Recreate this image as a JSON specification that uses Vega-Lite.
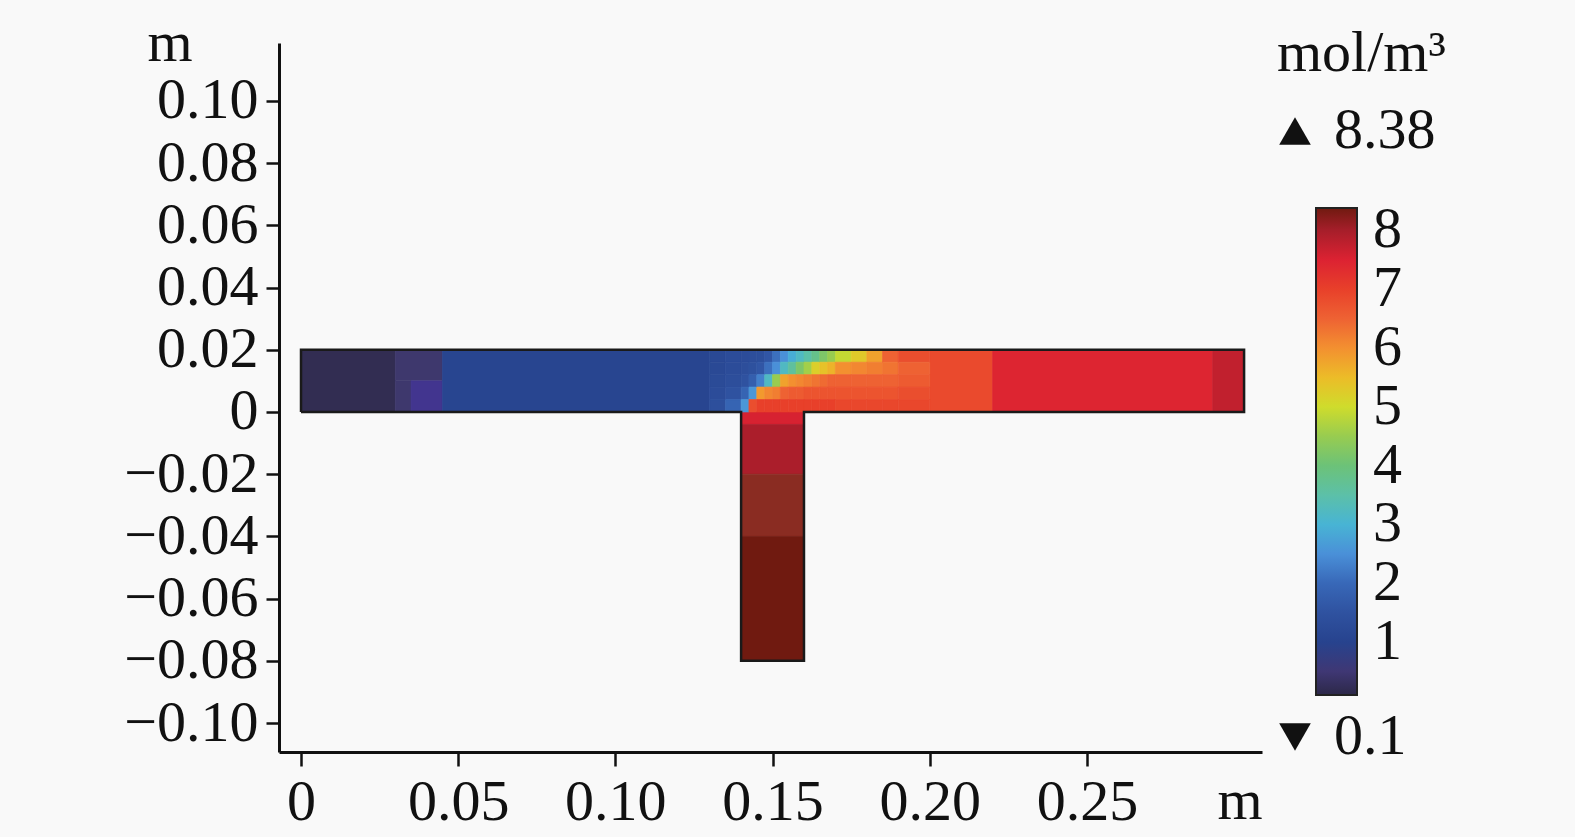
{
  "$schema": "https://vega.github.io/schema/vega-lite/v6.json",
  "width": 983,
  "height": 709,
  "autosize": {"type": "none"},
  "padding": {"left": 279, "top": 43, "right": 313, "bottom": 85},
  "background": "#f9f9f9",
  "config": {
    "view": {"stroke": null},
    "font": "Liberation Serif",
    "axis": {"grid": false, "domainColor": "#111111", "domainWidth": 3, "tickColor": "#111111", "tickWidth": 2.5, "labelFont": "Liberation Serif", "labelFontSize": 58, "labelColor": "#111111", "titleFont": "Liberation Serif", "titleFontSize": 58, "titleFontWeight": "normal", "titleColor": "#111111"},
    "legend": {"labelFont": "Liberation Serif", "labelFontSize": 58, "labelColor": "#111111", "titleFont": "Liberation Serif", "titleFontSize": 58, "titleFontWeight": "normal", "titleColor": "#111111", "padding": 0}
  },
  "layer": [
    {
      "data": {"values": [
        {"x0": 0, "x1": 0.03, "y0": 0, "y1": 0.02, "c": 0.2},
        {"x0": 0.03, "x1": 0.045, "y0": 0.01, "y1": 0.02, "c": 0.45},
        {"x0": 0.03, "x1": 0.035, "y0": 0, "y1": 0.01, "c": 0.45},
        {"x0": 0.035, "x1": 0.045, "y0": 0, "y1": 0.01, "c": 0.7},
        {"x0": 0.045, "x1": 0.13, "y0": 0, "y1": 0.02, "c": 1.05},
        {"x0": 0.2, "x1": 0.22, "y0": 0, "y1": 0.02, "c": 6.85},
        {"x0": 0.22, "x1": 0.29, "y0": 0, "y1": 0.02, "c": 7.45},
        {"x0": 0.29, "x1": 0.3, "y0": 0, "y1": 0.02, "c": 7.75},
        {"x0": 0.14, "x1": 0.16, "y0": -0.004, "y1": 0, "c": 7.55},
        {"x0": 0.14, "x1": 0.16, "y0": -0.02, "y1": -0.004, "c": 7.95},
        {"x0": 0.14, "x1": 0.16, "y0": -0.04, "y1": -0.02, "c": 8.2},
        {"x0": 0.14, "x1": 0.16, "y0": -0.08, "y1": -0.04, "c": 8.38},

        {"x0": 0.13, "x1": 0.135, "y0": 0.016, "y1": 0.02, "c": 1.2},
        {"x0": 0.13, "x1": 0.135, "y0": 0.012, "y1": 0.016, "c": 1.2},
        {"x0": 0.13, "x1": 0.135, "y0": 0.008, "y1": 0.012, "c": 1.25},
        {"x0": 0.13, "x1": 0.135, "y0": 0.004, "y1": 0.008, "c": 1.3},
        {"x0": 0.13, "x1": 0.135, "y0": 0, "y1": 0.004, "c": 1.4},

        {"x0": 0.135, "x1": 0.14, "y0": 0.016, "y1": 0.02, "c": 1.3},
        {"x0": 0.135, "x1": 0.14, "y0": 0.012, "y1": 0.016, "c": 1.3},
        {"x0": 0.135, "x1": 0.14, "y0": 0.008, "y1": 0.012, "c": 1.35},
        {"x0": 0.135, "x1": 0.14, "y0": 0.004, "y1": 0.008, "c": 1.5},
        {"x0": 0.135, "x1": 0.14, "y0": 0, "y1": 0.004, "c": 1.9},

        {"x0": 0.14, "x1": 0.1425, "y0": 0.016, "y1": 0.02, "c": 1.3},
        {"x0": 0.14, "x1": 0.1425, "y0": 0.012, "y1": 0.016, "c": 1.35},
        {"x0": 0.14, "x1": 0.1425, "y0": 0.008, "y1": 0.012, "c": 1.5},
        {"x0": 0.14, "x1": 0.1425, "y0": 0.004, "y1": 0.008, "c": 1.9},
        {"x0": 0.14, "x1": 0.1425, "y0": 0, "y1": 0.004, "c": 2.6},

        {"x0": 0.1425, "x1": 0.145, "y0": 0.016, "y1": 0.02, "c": 1.35},
        {"x0": 0.1425, "x1": 0.145, "y0": 0.012, "y1": 0.016, "c": 1.45},
        {"x0": 0.1425, "x1": 0.145, "y0": 0.008, "y1": 0.012, "c": 1.8},
        {"x0": 0.1425, "x1": 0.145, "y0": 0.004, "y1": 0.008, "c": 2.6},
        {"x0": 0.1425, "x1": 0.145, "y0": 0, "y1": 0.004, "c": 6.8},

        {"x0": 0.145, "x1": 0.1475, "y0": 0.016, "y1": 0.02, "c": 1.4},
        {"x0": 0.145, "x1": 0.1475, "y0": 0.012, "y1": 0.016, "c": 1.6},
        {"x0": 0.145, "x1": 0.1475, "y0": 0.008, "y1": 0.012, "c": 2.3},
        {"x0": 0.145, "x1": 0.1475, "y0": 0.004, "y1": 0.008, "c": 5.9},
        {"x0": 0.145, "x1": 0.1475, "y0": 0, "y1": 0.004, "c": 7.0},

        {"x0": 0.1475, "x1": 0.15, "y0": 0.016, "y1": 0.02, "c": 1.6},
        {"x0": 0.1475, "x1": 0.15, "y0": 0.012, "y1": 0.016, "c": 2.1},
        {"x0": 0.1475, "x1": 0.15, "y0": 0.008, "y1": 0.012, "c": 3.2},
        {"x0": 0.1475, "x1": 0.15, "y0": 0.004, "y1": 0.008, "c": 6.1},
        {"x0": 0.1475, "x1": 0.15, "y0": 0, "y1": 0.004, "c": 7.0},

        {"x0": 0.15, "x1": 0.1525, "y0": 0.016, "y1": 0.02, "c": 2.1},
        {"x0": 0.15, "x1": 0.1525, "y0": 0.012, "y1": 0.016, "c": 2.5},
        {"x0": 0.15, "x1": 0.1525, "y0": 0.008, "y1": 0.012, "c": 4.5},
        {"x0": 0.15, "x1": 0.1525, "y0": 0.004, "y1": 0.008, "c": 6.2},
        {"x0": 0.15, "x1": 0.1525, "y0": 0, "y1": 0.004, "c": 7.0},

        {"x0": 0.1525, "x1": 0.155, "y0": 0.016, "y1": 0.02, "c": 2.5},
        {"x0": 0.1525, "x1": 0.155, "y0": 0.012, "y1": 0.016, "c": 3.2},
        {"x0": 0.1525, "x1": 0.155, "y0": 0.008, "y1": 0.012, "c": 5.8},
        {"x0": 0.1525, "x1": 0.155, "y0": 0.004, "y1": 0.008, "c": 6.5},
        {"x0": 0.1525, "x1": 0.155, "y0": 0, "y1": 0.004, "c": 7.0},

        {"x0": 0.155, "x1": 0.1575, "y0": 0.016, "y1": 0.02, "c": 2.9},
        {"x0": 0.155, "x1": 0.1575, "y0": 0.012, "y1": 0.016, "c": 3.6},
        {"x0": 0.155, "x1": 0.1575, "y0": 0.008, "y1": 0.012, "c": 6.0},
        {"x0": 0.155, "x1": 0.1575, "y0": 0.004, "y1": 0.008, "c": 6.6},
        {"x0": 0.155, "x1": 0.1575, "y0": 0, "y1": 0.004, "c": 7.0},

        {"x0": 0.1575, "x1": 0.16, "y0": 0.016, "y1": 0.02, "c": 3.2},
        {"x0": 0.1575, "x1": 0.16, "y0": 0.012, "y1": 0.016, "c": 4.2},
        {"x0": 0.1575, "x1": 0.16, "y0": 0.008, "y1": 0.012, "c": 6.1},
        {"x0": 0.1575, "x1": 0.16, "y0": 0.004, "y1": 0.008, "c": 6.6},
        {"x0": 0.1575, "x1": 0.16, "y0": 0, "y1": 0.004, "c": 7.0},

        {"x0": 0.16, "x1": 0.1625, "y0": 0.016, "y1": 0.02, "c": 3.5},
        {"x0": 0.16, "x1": 0.1625, "y0": 0.012, "y1": 0.016, "c": 4.6},
        {"x0": 0.16, "x1": 0.1625, "y0": 0.008, "y1": 0.012, "c": 6.2},
        {"x0": 0.16, "x1": 0.1625, "y0": 0.004, "y1": 0.008, "c": 6.7},
        {"x0": 0.16, "x1": 0.1625, "y0": 0, "y1": 0.004, "c": 7.0},

        {"x0": 0.1625, "x1": 0.165, "y0": 0.016, "y1": 0.02, "c": 3.8},
        {"x0": 0.1625, "x1": 0.165, "y0": 0.012, "y1": 0.016, "c": 5.2},
        {"x0": 0.1625, "x1": 0.165, "y0": 0.008, "y1": 0.012, "c": 6.3},
        {"x0": 0.1625, "x1": 0.165, "y0": 0.004, "y1": 0.008, "c": 6.7},
        {"x0": 0.1625, "x1": 0.165, "y0": 0, "y1": 0.004, "c": 7.0},

        {"x0": 0.165, "x1": 0.1675, "y0": 0.016, "y1": 0.02, "c": 4.2},
        {"x0": 0.165, "x1": 0.1675, "y0": 0.012, "y1": 0.016, "c": 5.4},
        {"x0": 0.165, "x1": 0.1675, "y0": 0.008, "y1": 0.012, "c": 6.4},
        {"x0": 0.165, "x1": 0.1675, "y0": 0.004, "y1": 0.008, "c": 6.7},
        {"x0": 0.165, "x1": 0.1675, "y0": 0, "y1": 0.004, "c": 7.0},

        {"x0": 0.1675, "x1": 0.17, "y0": 0.016, "y1": 0.02, "c": 4.5},
        {"x0": 0.1675, "x1": 0.17, "y0": 0.012, "y1": 0.016, "c": 5.6},
        {"x0": 0.1675, "x1": 0.17, "y0": 0.008, "y1": 0.012, "c": 6.5},
        {"x0": 0.1675, "x1": 0.17, "y0": 0.004, "y1": 0.008, "c": 6.7},
        {"x0": 0.1675, "x1": 0.17, "y0": 0, "y1": 0.004, "c": 7.0},

        {"x0": 0.17, "x1": 0.175, "y0": 0.016, "y1": 0.02, "c": 4.9},
        {"x0": 0.17, "x1": 0.175, "y0": 0.012, "y1": 0.016, "c": 6.0},
        {"x0": 0.17, "x1": 0.175, "y0": 0.008, "y1": 0.012, "c": 6.5},
        {"x0": 0.17, "x1": 0.175, "y0": 0.004, "y1": 0.008, "c": 6.7},
        {"x0": 0.17, "x1": 0.175, "y0": 0, "y1": 0.004, "c": 6.9},

        {"x0": 0.175, "x1": 0.18, "y0": 0.016, "y1": 0.02, "c": 5.3},
        {"x0": 0.175, "x1": 0.18, "y0": 0.012, "y1": 0.016, "c": 6.1},
        {"x0": 0.175, "x1": 0.18, "y0": 0.008, "y1": 0.012, "c": 6.5},
        {"x0": 0.175, "x1": 0.18, "y0": 0.004, "y1": 0.008, "c": 6.7},
        {"x0": 0.175, "x1": 0.18, "y0": 0, "y1": 0.004, "c": 6.9},

        {"x0": 0.18, "x1": 0.185, "y0": 0.016, "y1": 0.02, "c": 5.8},
        {"x0": 0.18, "x1": 0.185, "y0": 0.012, "y1": 0.016, "c": 6.2},
        {"x0": 0.18, "x1": 0.185, "y0": 0.008, "y1": 0.012, "c": 6.5},
        {"x0": 0.18, "x1": 0.185, "y0": 0.004, "y1": 0.008, "c": 6.7},
        {"x0": 0.18, "x1": 0.185, "y0": 0, "y1": 0.004, "c": 6.9},

        {"x0": 0.185, "x1": 0.19, "y0": 0.016, "y1": 0.02, "c": 6.5},
        {"x0": 0.185, "x1": 0.19, "y0": 0.012, "y1": 0.016, "c": 6.3},
        {"x0": 0.185, "x1": 0.19, "y0": 0.008, "y1": 0.012, "c": 6.5},
        {"x0": 0.185, "x1": 0.19, "y0": 0.004, "y1": 0.008, "c": 6.7},
        {"x0": 0.185, "x1": 0.19, "y0": 0, "y1": 0.004, "c": 6.9},

        {"x0": 0.19, "x1": 0.2, "y0": 0.016, "y1": 0.02, "c": 6.8},
        {"x0": 0.19, "x1": 0.2, "y0": 0.012, "y1": 0.016, "c": 6.5},
        {"x0": 0.19, "x1": 0.2, "y0": 0.008, "y1": 0.012, "c": 6.6},
        {"x0": 0.19, "x1": 0.2, "y0": 0.004, "y1": 0.008, "c": 6.8},
        {"x0": 0.19, "x1": 0.2, "y0": 0, "y1": 0.004, "c": 6.9}
      ]},
      "mark": {"type": "rect", "strokeWidth": 0.7},
      "encoding": {
        "x": {"field": "x0", "type": "quantitative", "title": "m",
          "scale": {"domain": [-0.007, 0.3057], "nice": false, "zero": false},
          "axis": {"values": [0, 0.05, 0.1, 0.15, 0.2, 0.25], "labelExpr": "datum.value == 0 ? '0' : format(datum.value, '.2f')", "tickSize": 14, "labelPadding": 7, "labelFlush": false, "labelOverlap": false, "titleAngle": 0, "titleAlign": "left", "titleBaseline": "alphabetic", "titleX": 938, "titleY": 66}},
        "x2": {"field": "x1"},
        "y": {"field": "y0", "type": "quantitative", "title": "m",
          "scale": {"domain": [-0.1093, 0.1186], "nice": false, "zero": false},
          "axis": {"values": [-0.1, -0.08, -0.06, -0.04, -0.02, 0, 0.02, 0.04, 0.06, 0.08, 0.1], "labelExpr": "datum.value == 0 ? '0' : replace(format(datum.value, '.2f'), '-', '−')", "tickSize": 13, "labelPadding": 8, "labelFlush": false, "labelOverlap": false, "titleAngle": 0, "titleAlign": "left", "titleBaseline": "alphabetic", "titleX": -132, "titleY": 17}},
        "y2": {"field": "y1"},
        "color": {"field": "c", "type": "quantitative",
          "scale": {"domain": [0.1, 0.4, 0.7, 1.0, 1.5, 2.0, 2.5, 3.0, 3.5, 4.0, 4.5, 5.0, 5.5, 6.0, 6.5, 7.0, 7.5, 8.0, 8.2, 8.38],
                    "range": ["#2c2848", "#3d3866", "#42358f", "#27438e", "#2f52a0", "#3868b8", "#4a90d8", "#48b4d4", "#5cc0a8", "#6cc278", "#98cc50", "#cfdc2c", "#ecbc28", "#f39030", "#ee6233", "#e8402a", "#dc2232", "#a61e2a", "#8a2c22", "#701a10"],
                    "interpolate": "rgb"},
          "legend": {"type": "gradient", "orient": "none", "legendX": 1037, "legendY": 165, "title": null, "direction": "vertical", "gradientLength": 487, "gradientThickness": 41, "gradientStrokeColor": "#222222", "gradientStrokeWidth": 2, "tickCount": 8, "labelOffset": 16, "labelOverlap": false}},
        "stroke": {"field": "c", "type": "quantitative",
          "scale": {"domain": [0.1, 0.4, 0.7, 1.0, 1.5, 2.0, 2.5, 3.0, 3.5, 4.0, 4.5, 5.0, 5.5, 6.0, 6.5, 7.0, 7.5, 8.0, 8.2, 8.3801],
                    "range": ["#2c2848", "#3d3866", "#42358f", "#27438e", "#2f52a0", "#3868b8", "#4a90d8", "#48b4d4", "#5cc0a8", "#6cc278", "#98cc50", "#cfdc2c", "#ecbc28", "#f39030", "#ee6233", "#e8402a", "#dc2232", "#a61e2a", "#8a2c22", "#701a10"],
                    "interpolate": "rgb"},
          "legend": null}
      }
    },
    {
      "data": {"values": [
        {"i": 0, "px": 0, "py": 0},
        {"i": 1, "px": 0, "py": 0.02},
        {"i": 2, "px": 0.3, "py": 0.02},
        {"i": 3, "px": 0.3, "py": 0},
        {"i": 4, "px": 0.16, "py": 0},
        {"i": 5, "px": 0.16, "py": -0.08},
        {"i": 6, "px": 0.14, "py": -0.08},
        {"i": 7, "px": 0.14, "py": 0},
        {"i": 8, "px": 0, "py": 0}
      ]},
      "mark": {"type": "line", "color": "#1a1a1a", "strokeWidth": 2.5},
      "encoding": {
        "x": {"field": "px", "type": "quantitative", "title": "m"},
        "y": {"field": "py", "type": "quantitative", "title": "m"},
        "order": {"field": "i", "type": "quantitative"}
      }
    },
    {
      "data": {"values": [{"maxLabel": "8.38"}]},
      "mark": {"type": "point", "filled": true, "color": "#111111", "opacity": 0},
      "encoding": {
        "shape": {"field": "maxLabel", "type": "nominal", "scale": {"range": ["triangle-up"]},
          "legend": {"orient": "none", "legendX": 998, "legendY": -18, "title": "mol/m³", "titlePadding": 19, "symbolSize": 1000, "symbolOffset": -11, "symbolFillColor": "#111111", "symbolStrokeWidth": 0, "symbolOpacity": 1, "labelOffset": 10}}
      }
    },
    {
      "data": {"values": [{"minLabel": "0.1"}]},
      "mark": {"type": "point", "filled": true, "color": "#111111", "opacity": 0},
      "encoding": {
        "shape": {"field": "minLabel", "type": "nominal", "scale": {"range": ["triangle-down"]},
          "legend": {"orient": "none", "legendX": 998, "legendY": 665, "title": null, "symbolSize": 1000, "symbolOffset": -11, "symbolFillColor": "#111111", "symbolStrokeWidth": 0, "symbolOpacity": 1, "labelOffset": 10}}
      }
    }
  ],
  "resolve": {"scale": {"shape": "independent"}}
}
